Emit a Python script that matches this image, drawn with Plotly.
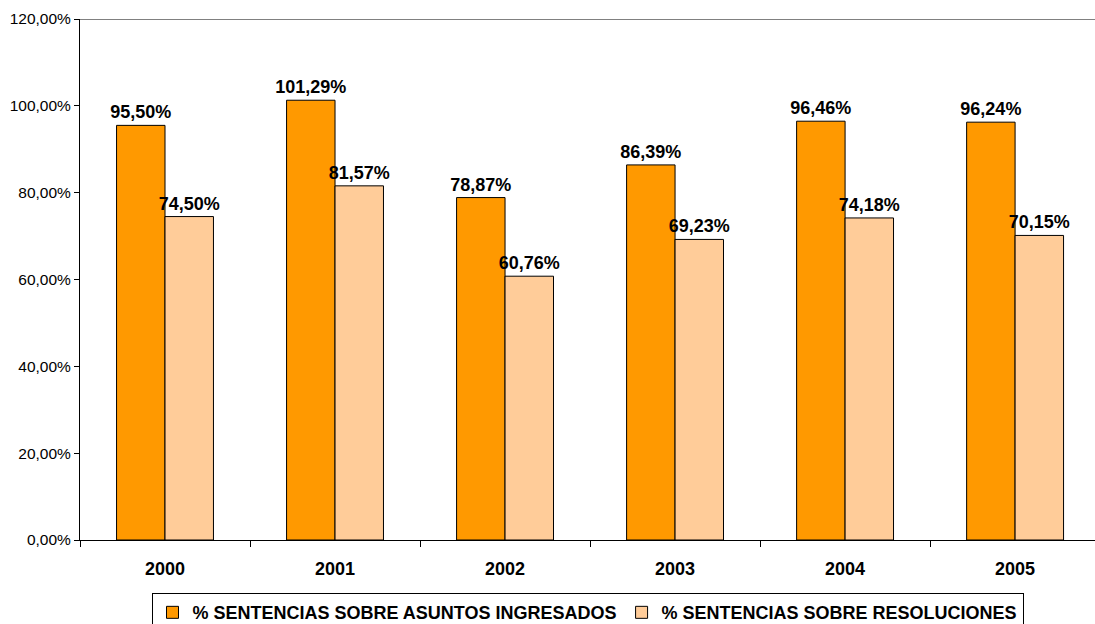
import plotly.graph_objects as go

years = ["2000", "2001", "2002", "2003", "2004", "2005"]
ingresados = [95.50, 101.29, 78.87, 86.39, 96.46, 96.24]
resoluciones = [74.50, 81.57, 60.76, 69.23, 74.18, 70.15]
names = ["% SENTENCIAS SOBRE ASUNTOS INGRESADOS", "% SENTENCIAS SOBRE RESOLUCIONES"]
colors = ["#FF9900", "#FFCC99"]

FONT = "Liberation Sans, Arial"

fig = go.Figure()
for name, vals, col in zip(names, [ingresados, resoluciones], colors):
    fig.add_trace(go.Bar(
        x=years, y=vals, name=name,
        marker=dict(color=col, line=dict(color="#000000", width=1)),
        texttemplate="%{y:.2f}%", textposition="outside", cliponaxis=False,
        constraintext="none",
        textfont=dict(family=FONT, size=18, color="#000000", weight="bold"),
    ))

fig.update_layout(
    width=1095, height=624,
    margin=dict(l=80, r=0, t=19, b=84, autoexpand=False),
    separators=",.",
    barmode="group", bargap=0.43, bargroupgap=0,
    plot_bgcolor="#FFFFFF", paper_bgcolor="#FFFFFF",
    font=dict(family=FONT, size=15, color="#000000"),
    showlegend=True,
    legend=dict(
        orientation="h", x=0.5, xanchor="center", xref="paper",
        y=-0.102, yanchor="top",
        bordercolor="#000000", borderwidth=1,
        font=dict(family=FONT, size=18, color="#000000", weight="bold"),
        itemwidth=30, tracegroupgap=0,
    ),
    xaxis=dict(
        type="category", range=[-0.5, 5.47],
        showline=True, linecolor="#000000", linewidth=1,
        ticks="outside", tickson="boundaries", ticklen=6, tickcolor="#000000",
        tickfont=dict(family=FONT, size=18, color="#000000", weight="bold"),
        ticklabelstandoff=12,
        showgrid=False,
    ),
    yaxis=dict(
        range=[0, 120], dtick=20, tickformat=".2f", ticksuffix="%",
        showline=True, linecolor="#000000", linewidth=1,
        ticks="outside", ticklen=5, tickcolor="#000000",
        tickfont=dict(family=FONT, size=15.5, color="#000000"),
        showgrid=False, zeroline=False,
    ),
    shapes=[dict(type="line", xref="paper", yref="y", x0=0, x1=1, y0=120, y1=120,
                 line=dict(color="#808080", width=2))],
)

fig.write_html(
    "out.html",
    config={"displayModeBar": False},
    post_script="document.body.style.margin='0';document.body.style.overflow='hidden';",
)
